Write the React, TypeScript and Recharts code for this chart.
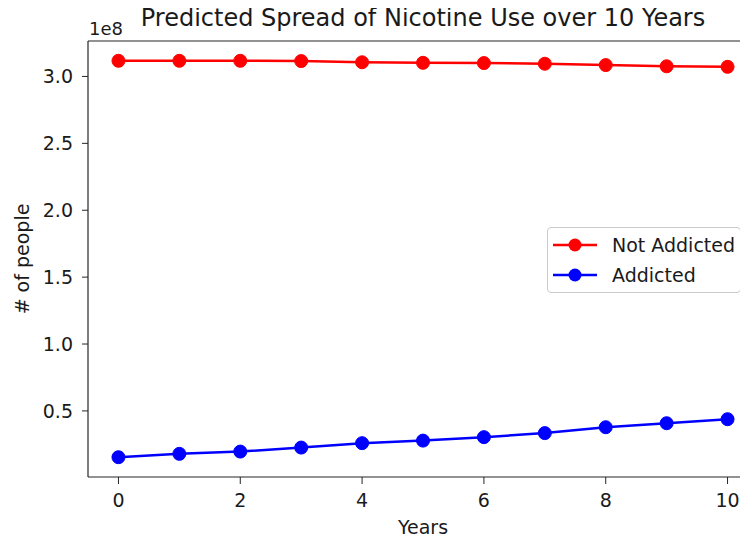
import { LineChart, Line, XAxis, YAxis, ReferenceLine } from 'recharts';

const years = [0, 1, 2, 3, 4, 5, 6, 7, 8, 9, 10];
const notAddicted = [
  3.117e8, 3.117e8, 3.117e8, 3.115e8, 3.106e8, 3.102e8, 3.1e8, 3.095e8, 3.085e8, 3.076e8, 3.072e8,
];
const addicted = [
  0.154e8, 0.179e8, 0.196e8, 0.226e8, 0.259e8, 0.278e8, 0.304e8, 0.334e8, 0.378e8, 0.408e8, 0.438e8,
];
const xTicks = [0, 2, 4, 6, 8, 10];
const yTicks = [0.5e8, 1.0e8, 1.5e8, 2.0e8, 2.5e8, 3.0e8];

const seriesInfo = [
  { key: 'notAddicted', name: 'Not Addicted', color: '#ff0000' },
  { key: 'addicted', name: 'Addicted', color: '#0000ff' },
];

const data = years.map((year, i) => ({
  year,
  notAddicted: notAddicted[i],
  addicted: addicted[i],
}));

const Y_MIN = 0.006e8;
const Y_MAX = 3.265e8;
const FONT = '"DejaVu Sans", sans-serif';
const INK = '#1a1a1a';
const SPINE = '#262626';

// matplotlib-like legend box, drawn in HTML
function LegendBox() {
  return (
    <div
      style={{
        position: 'absolute',
        left: 547,
        top: 227,
        width: 194,
        height: 66,
        boxSizing: 'border-box',
        border: '1px solid #cccccc',
        borderRadius: 4,
        background: 'rgba(255,255,255,0.8)',
        fontFamily: FONT,
        fontSize: 19,
        color: INK,
      }}
    >
      {seriesInfo.map((s, i) => (
        <div
          key={s.key}
          style={{ position: 'absolute', left: 4, top: 2 + i * 30, height: 30, display: 'flex', alignItems: 'center' }}
        >
          <svg width={46} height={30}>
            <line x1={1} y1={15} x2={45} y2={15} stroke={s.color} strokeWidth={2.5} />
            <circle cx={23} cy={15} r={6.5} fill={s.color} />
          </svg>
          <span style={{ marginLeft: 14, whiteSpace: 'nowrap' }}>{s.name}</span>
        </div>
      ))}
    </div>
  );
}

export default function App() {
  return (
    <div
      style={{
        position: 'relative',
        width: 748,
        height: 540,
        overflow: 'hidden',
        margin: '-8px 0 0 -8px',
        background: '#fff',
        fontFamily: FONT,
        color: INK,
      }}
    >
      <div
        style={{
          position: 'absolute',
          left: 88,
          width: 670,
          top: 4,
          textAlign: 'center',
          fontSize: 24,
          lineHeight: '29px',
          whiteSpace: 'nowrap',
        }}
      >
        Predicted Spread of Nicotine Use over 10 Years
      </div>
      <div style={{ position: 'absolute', left: 89, top: 18, fontSize: 18, lineHeight: '22px' }}>1e8</div>
      <LineChart width={770} height={540} data={data} margin={{ top: 41, right: 12, bottom: 0, left: 0 }}>
        <XAxis
          dataKey="year"
          type="number"
          domain={[-0.5, 10.5]}
          ticks={xTicks}
          allowDataOverflow
          height={63}
          tickSize={7}
          tickMargin={10}
          tick={{ fontSize: 19, fill: INK, fontFamily: FONT }}
          tickLine={{ stroke: SPINE }}
          axisLine={{ stroke: SPINE, strokeWidth: 1.2 }}
          label={(props: any) => {
            const vb = props.viewBox;
            return (
              <text x={vb.x + vb.width / 2} y={534} textAnchor="middle" fontSize={19} fontFamily={FONT} fill={INK}>
                Years
              </text>
            );
          }}
        />
        <YAxis
          type="number"
          domain={[Y_MIN, Y_MAX]}
          ticks={yTicks}
          allowDataOverflow
          width={88}
          tickSize={6}
          tickMargin={9}
          tickFormatter={(v: number) => (v / 1e8).toFixed(1)}
          tick={{ fontSize: 19, fill: INK, fontFamily: FONT }}
          tickLine={{ stroke: SPINE }}
          axisLine={{ stroke: SPINE, strokeWidth: 1.2 }}
          label={(props: any) => {
            const vb = props.viewBox;
            const cy = vb.y + vb.height / 2;
            return (
              <text
                x={22}
                y={cy}
                transform={`rotate(-90, 22, ${cy})`}
                textAnchor="middle"
                dominantBaseline="central"
                fontSize={19}
                fontFamily={FONT}
                fill={INK}
              >
                # of people
              </text>
            );
          }}
        />
        {/* top spine */}
        <ReferenceLine y={Y_MAX} stroke={SPINE} strokeWidth={1.2} ifOverflow="visible" />
        {seriesInfo.map((s) => (
          <Line
            key={s.key}
            dataKey={s.key}
            name={s.name}
            stroke={s.color}
            strokeWidth={2.5}
            dot={{ r: 6.5, fill: s.color, stroke: s.color, strokeWidth: 1 }}
            activeDot={false}
            isAnimationActive={false}
          />
        ))}
      </LineChart>
      <LegendBox />
    </div>
  );
}
